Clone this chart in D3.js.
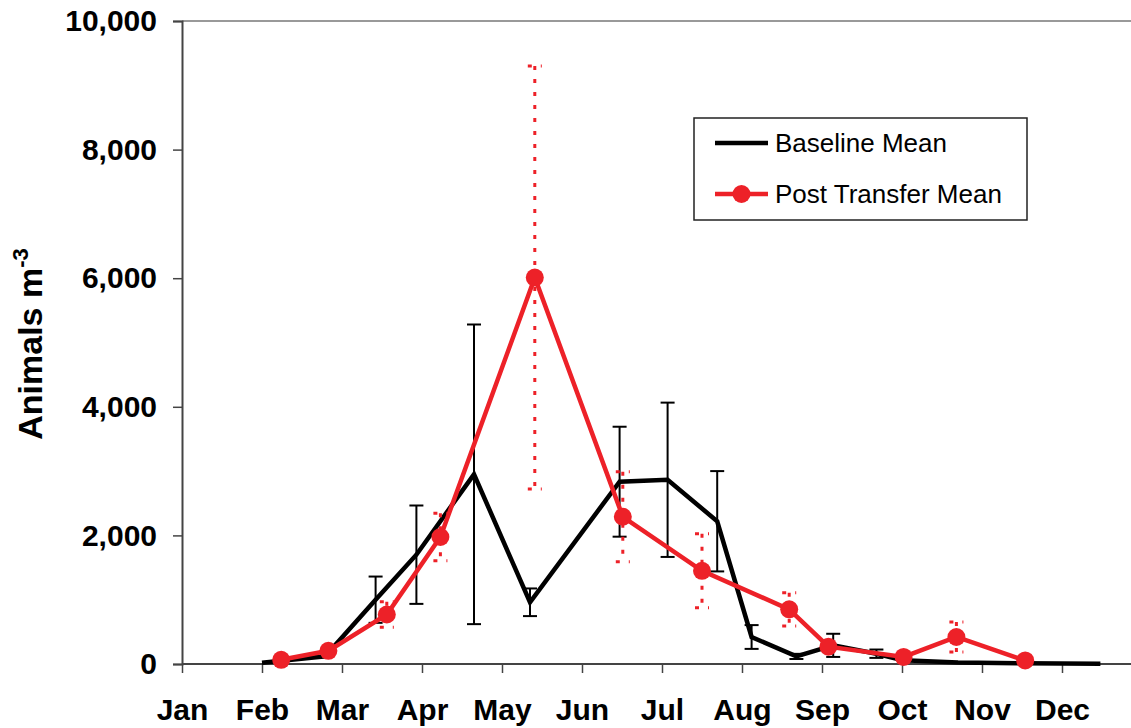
<!DOCTYPE html>
<html>
<head>
<meta charset="utf-8">
<script src="https://cdn.jsdelivr.net/npm/d3@7"></script>
<style>
  html, body { margin: 0; padding: 0; background: #fff; }
  svg { display: block; font-family: Arial, "Liberation Sans", sans-serif; }
</style>
</head>
<body>
<div id="chart"></div>
<script>
// month labels (tick at start of each month)
const months = ['Jan', 'Feb', 'Mar', 'Apr', 'May', 'Jun', 'Jul', 'Aug', 'Sep', 'Oct', 'Nov', 'Dec'];
const yTicks = [0, 2000, 4000, 6000, 8000, 10000];

// baseline series: position in months since Jan 1, mean, error
const baseMonth = [1.00, 1.79, 2.42, 2.93, 3.65, 4.35, 5.47, 6.07, 6.69, 7.12, 7.68, 8.14, 8.68, 9.01, 9.70, 10.50, 11.48];
const baseMean  = [20, 120, 1000, 1700, 2950, 960, 2835, 2865, 2220, 420, 118, 290, 160, 60, 25, 10, 5];
const baseErr   = [0, 0, 360, 765, 2330, 215, 855, 1200, 780, 185, 40, 180, 65, 0, 0, 0, 0];

// post transfer series
const postMonth = [1.24, 1.83, 2.56, 3.23, 4.41, 5.51, 6.50, 7.59, 8.08, 9.02, 9.68, 10.54];
const postMean  = [65, 205, 770, 1975, 6010, 2290, 1450, 850, 270, 110, 420, 55];
const postErr   = [0, 0, 200, 370, 3290, 700, 575, 260, 40, 30, 235, 0];

const W = 1131, H = 728;
const margin = { left: 182, top: 21, bottom: 64 };
const red = '#ed2128';

const svg = d3.select('#chart').append('svg')
  .attr('width', W)
  .attr('height', H);

const x = d3.scaleLinear().domain([0, 12]).range([margin.left, margin.left + 960]);
const y = d3.scaleLinear().domain([0, 10000]).range([H - margin.bottom, margin.top]);

// top border of plot area
svg.append('line')
  .attr('x1', x(0)).attr('x2', W)
  .attr('y1', y(10000)).attr('y2', y(10000))
  .attr('stroke', '#999').attr('stroke-width', 2);

// y axis
const yAxis = svg.append('g')
  .attr('transform', `translate(${x(0)},0)`)
  .call(d3.axisLeft(y).tickValues(yTicks).tickFormat(d3.format(',')).tickSize(9).tickPadding(16));
yAxis.select('.domain').attr('stroke', '#444').attr('stroke-width', 2);
yAxis.selectAll('.tick line').attr('stroke', '#444').attr('stroke-width', 1.5);
yAxis.selectAll('.tick text')
  .attr('font-size', 30).attr('font-weight', 'bold').attr('fill', '#000')
  .attr('font-family', 'Arial, "Liberation Sans", sans-serif');

// x axis
const xAxis = svg.append('g')
  .attr('transform', `translate(0,${y(0)})`)
  .call(d3.axisBottom(x).tickValues(d3.range(months.length))
    .tickFormat(i => months[i]).tickSize(9).tickSizeOuter(0).tickPadding(26));
xAxis.select('.domain').attr('stroke', '#444').attr('stroke-width', 2)
  .attr('d', `M${x(0)},0H${W}`);
xAxis.selectAll('.tick line').attr('stroke', '#444').attr('stroke-width', 1.5);
xAxis.selectAll('.tick text')
  .attr('font-size', 30).attr('font-weight', 'bold').attr('fill', '#000')
  .attr('font-family', 'Arial, "Liberation Sans", sans-serif');

// y axis title
const title = svg.append('text')
  .attr('transform', `translate(42,${344}) rotate(-90)`)
  .attr('text-anchor', 'middle')
  .attr('font-size', 34).attr('font-weight', 'bold');
title.append('tspan').text('Animals m');
title.append('tspan').attr('font-size', 22).attr('dy', -14).text('-3');

const base = baseMonth.map((m, i) => ({ m, v: baseMean[i], e: baseErr[i] }));
const post = postMonth.map((m, i) => ({ m, v: postMean[i], e: postErr[i] }));

// baseline error bars
const bErr = svg.append('g').selectAll('g')
  .data(base.filter(d => d.e > 0))
  .join('g')
  .attr('stroke', '#000').attr('stroke-width', 2);
bErr.append('line')
  .attr('x1', d => x(d.m)).attr('x2', d => x(d.m))
  .attr('y1', d => y(d.v + d.e)).attr('y2', d => y(d.v - d.e));
bErr.append('line')
  .attr('x1', d => x(d.m) - 7).attr('x2', d => x(d.m) + 7)
  .attr('y1', d => y(d.v + d.e)).attr('y2', d => y(d.v + d.e));
bErr.append('line')
  .attr('x1', d => x(d.m) - 7).attr('x2', d => x(d.m) + 7)
  .attr('y1', d => y(d.v - d.e)).attr('y2', d => y(d.v - d.e));

const line = d3.line().x(d => x(d.m)).y(d => y(d.v));

// baseline mean line
svg.append('path')
  .datum(base)
  .attr('d', line)
  .attr('fill', 'none')
  .attr('stroke', '#000')
  .attr('stroke-width', 4.5)
  .attr('stroke-linejoin', 'miter');

// post transfer error bars (dotted)
const pErr = svg.append('g').selectAll('g')
  .data(post.filter(d => d.e > 0))
  .join('g')
  .attr('stroke', red).attr('stroke-width', 3).attr('stroke-dasharray', '4,9');
pErr.append('line')
  .attr('x1', d => x(d.m)).attr('x2', d => x(d.m))
  .attr('y1', d => y(d.v + d.e)).attr('y2', d => y(d.v - d.e));
pErr.append('line')
  .attr('x1', d => x(d.m) - 7).attr('x2', d => x(d.m) + 7)
  .attr('y1', d => y(d.v + d.e)).attr('y2', d => y(d.v + d.e));
pErr.append('line')
  .attr('x1', d => x(d.m) - 7).attr('x2', d => x(d.m) + 7)
  .attr('y1', d => y(d.v - d.e)).attr('y2', d => y(d.v - d.e));

// post transfer mean line + markers
svg.append('path')
  .datum(post)
  .attr('d', line)
  .attr('fill', 'none')
  .attr('stroke', red)
  .attr('stroke-width', 4.5);

svg.append('g').selectAll('circle')
  .data(post)
  .join('circle')
  .attr('cx', d => x(d.m))
  .attr('cy', d => y(d.v))
  .attr('r', 9)
  .attr('fill', red);

// legend
const legend = svg.append('g').attr('transform', 'translate(694,118)');
legend.append('rect')
  .attr('width', 333).attr('height', 102)
  .attr('fill', '#fff').attr('stroke', '#222').attr('stroke-width', 1.5);
legend.append('line')
  .attr('x1', 21).attr('x2', 74).attr('y1', 25).attr('y2', 25)
  .attr('stroke', '#000').attr('stroke-width', 4.5);
legend.append('text')
  .attr('x', 81).attr('y', 25).attr('dy', '0.35em')
  .attr('font-size', 26).text('Baseline Mean');
legend.append('line')
  .attr('x1', 21).attr('x2', 74).attr('y1', 76).attr('y2', 76)
  .attr('stroke', red).attr('stroke-width', 4.5);
legend.append('circle')
  .attr('cx', 47.5).attr('cy', 76).attr('r', 9).attr('fill', red);
legend.append('text')
  .attr('x', 81).attr('y', 76).attr('dy', '0.35em')
  .attr('font-size', 26).text('Post Transfer Mean');
</script>
</body>
</html>
